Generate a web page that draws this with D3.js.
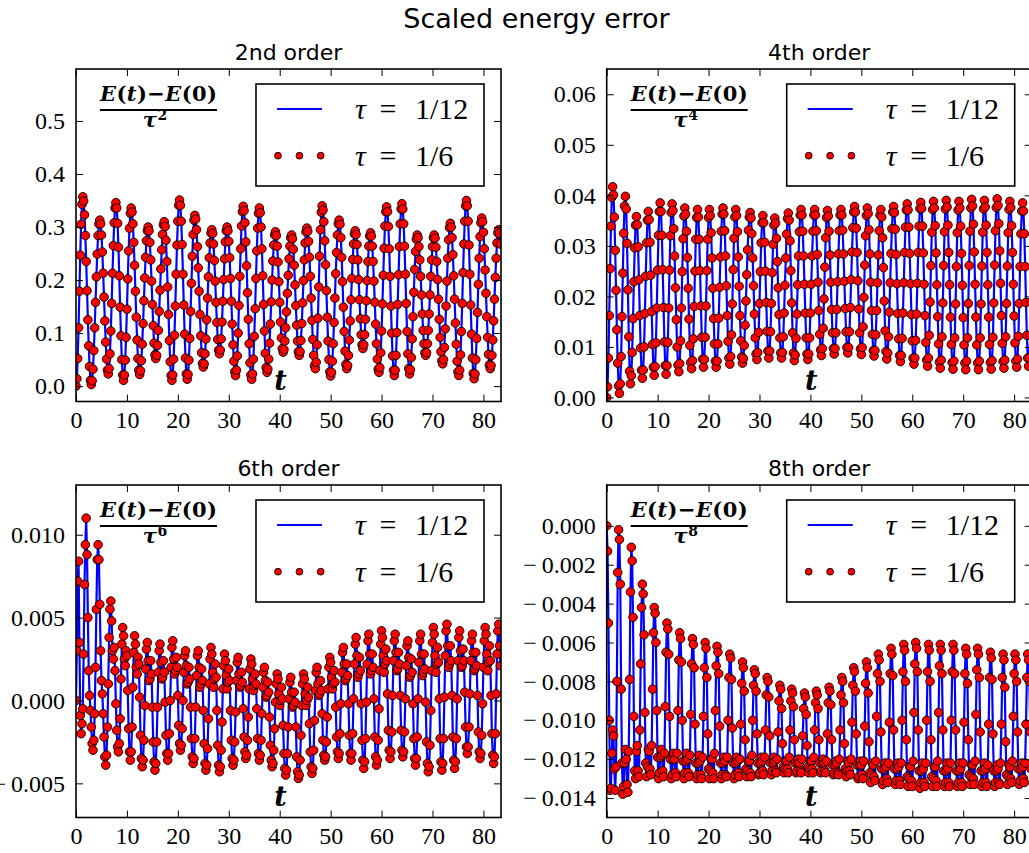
<!DOCTYPE html>
<meta charset="utf-8">
<style>
    body { margin: 0; background: #fff; }
    svg { display: block; }
    .suptitle { font: 27px "DejaVu Sans", sans-serif; text-anchor: middle; }
    .subtitle { font: 22px "DejaVu Sans", sans-serif; text-anchor: middle; }
    .frame { fill: none; stroke: #000; stroke-width: 1.6px; }
    .curve { fill: none; stroke: #0000ff; stroke-width: 2.2px; stroke-linejoin: round; }
    .dot { fill: #ff0000; stroke: #000; stroke-width: 0.9px; }
    .legend-box { fill: #fff; stroke: #000; stroke-width: 1.6px; }
    .legend text { font: 30px "Liberation Serif", serif; }
    .ratio { font-family: "DejaVu Serif", serif; font-weight: bold; font-size: 21px; }
    .ratio.sup { font-size: 14px; }
    .tlabel { font: italic bold 27px "DejaVu Serif", serif; text-anchor: middle; }
</style>
<svg id="fig" width="1029" height="853"></svg>
<script src="https://d3js.org/d3.v7.min.js"></script>
<script>
// sample step of the dotted run (tau = 1/6); dot i sits at t = i * step
var step = 1 / 6;

var xTicks = [0, 10, 20, 30, 40, 50, 60, 70, 80];
var xLabels = ["0", "10", "20", "30", "40", "50", "60", "70", "80"];
var seriesNames = ["1/12", "1/6"];

var yTicks2nd = [0, 0.1, 0.2, 0.3, 0.4, 0.5];
var yLabels2nd = ["0.0", "0.1", "0.2", "0.3", "0.4", "0.5"];
var yTicks4th = [0, 0.01, 0.02, 0.03, 0.04, 0.05, 0.06];
var yLabels4th = ["0.00", "0.01", "0.02", "0.03", "0.04", "0.05", "0.06"];
var yTicks6th = [-0.005, 0, 0.005, 0.010];
var yLabels6th = ["\u2212\u20090.005", "0.000", "0.005", "0.010"];
var yTicks8th = [-0.014, -0.012, -0.010, -0.008, -0.006, -0.004, -0.002, 0];
var yLabels8th = ["\u2212\u20090.014", "\u2212\u20090.012", "\u2212\u20090.010", "\u2212\u20090.008",
                  "\u2212\u20090.006", "\u2212\u20090.004", "\u2212\u20090.002", "0.000"];

// scaled energy error, tau = 1/6, one dot at a time
var dots2nd = [
  0, .014, .052, .110, .179, .247, .305, .343, .357,
  .349, .323, .284, .235, .180, .125, .076, .037, .011, .003,
  .010, .032, .067, .110, .158, .206, .249, .284, .306, .313,
  .306, .285, .253, .213, .168, .123, .083, .051, .030, .023,
  .033, .061, .104, .156, .213, .265, .308, .336, .346,
  .336, .307, .262, .208, .149, .095, .050, .021, .011,
  .021, .049, .092, .145, .202, .255, .298, .326, .336,
  .328, .306, .271, .228, .179, .130, .087, .052, .030, .022,
  .029, .048, .079, .118, .161, .204, .243, .274, .293, .300,
  .293, .271, .238, .198, .154, .114, .081, .059, .052,
  .058, .077, .105, .141, .181, .221, .257, .286, .304, .310,
  .301, .275, .235, .187, .135, .086, .046, .020, .011,
  .021, .051, .096, .151, .211, .266, .311, .341, .351,
  .341, .311, .267, .211, .153, .098, .053, .023, .013,
  .022, .049, .090, .141, .194, .245, .286, .313, .322,
  .315, .295, .263, .223, .179, .135, .095, .063, .043, .036,
  .042, .061, .089, .125, .166, .206, .242, .270, .289, .295,
  .288, .268, .237, .198, .158, .120, .088, .068, .061,
  .068, .089, .121, .160, .201, .240, .272, .293, .300,
  .293, .273, .242, .203, .160, .117, .078, .047, .027, .020,
  .030, .057, .100, .152, .207, .259, .302, .329, .339,
  .331, .308, .272, .227, .176, .126, .080, .044, .021, .013,
  .023, .051, .094, .146, .203, .255, .298, .326, .336,
  .327, .300, .259, .208, .154, .104, .062, .035, .026,
  .032, .051, .081, .117, .159, .200, .236, .266, .285, .291,
  .284, .264, .234, .197, .158, .121, .091, .071, .064,
  .069, .085, .110, .140, .175, .209, .240, .264, .280, .285,
  .278, .258, .228, .191, .152, .115, .085, .065, .058,
  .065, .086, .118, .157, .199, .238, .270, .291, .298,
  .292, .273, .243, .207, .166, .124, .088, .058, .039, .033,
  .045, .078, .128, .187, .245, .295, .328, .340,
  .332, .310, .274, .229, .180, .130, .085, .050, .027, .019,
  .026, .047, .080, .120, .166, .212, .252, .285, .306, .313,
  .305, .280, .243, .197, .149, .103, .066, .041, .033,
  .039, .058, .087, .123, .163, .203, .239, .268, .287, .293,
  .286, .267, .238, .201, .163, .127, .097, .078, .071,
  .078, .097, .126, .161, .199, .235, .264, .283, .289,
  .283, .264, .235, .198, .158, .117, .080, .051, .032, .026,
  .035, .063, .104, .155, .209, .260, .302, .329, .338,
  .329, .301, .259, .207, .151, .100, .057, .030, .020,
  .030, .058, .101, .154, .210, .263, .306, .334, .344,
  .334, .306, .264, .211, .156, .103, .061, .033, .023,
  .031, .054, .089, .131, .177, .220, .254, .277, .285,
  .280, .263, .238, .207, .172, .136, .105, .080, .063, .058,
  .063, .080, .105, .136, .172, .207, .238, .263, .280, .285,
  .279, .262, .235, .201, .164, .126, .092, .065, .048, .042,
  .050, .073, .108, .151, .198, .241, .276, .299, .307,
  .300, .280, .248, .208, .164, .119, .079, .047, .027, .020,
  .030, .059, .103, .156, .214, .268, .311, .340, .350,
  .340, .311, .266, .211, .153, .098, .053, .024, .014,
  .023, .050, .090, .139, .192, .241, .282, .308, .317,
  .310, .290, .259, .219, .175, .131, .092, .060, .040, .033,
  .039, .058, .087, .123, .164, .205, .241, .270, .289, .295,
  .288, .268
];

var dots4th = [
  0, .0021, .0078, .0162, .0255, .0339, .0396, .0417,
  .0401, .0357, .0291, .0212, .0134, .0068, .0023, .0008,
  .0027, .0081, .0160, .0246, .0325, .0379, .0398,
  .0373, .0305, .0213, .0120, .0052, .0027,
  .0043, .0089, .0156, .0229, .0296, .0341, .0358,
  .0342, .0298, .0233, .0162, .0098, .0054, .0038,
  .0054, .0100, .0166, .0240, .0306, .0351, .0368,
  .0352, .0307, .0242, .0170, .0105, .0060, .0044,
  .0061, .0108, .0177, .0252, .0321, .0368, .0385,
  .0368, .0321, .0253, .0178, .0110, .0063, .0046,
  .0063, .0109, .0177, .0252, .0320, .0366, .0383,
  .0370, .0334, .0280, .0217, .0154, .0100, .0064, .0051,
  .0067, .0112, .0177, .0249, .0314, .0359, .0375,
  .0363, .0329, .0277, .0216, .0155, .0103, .0069, .0057,
  .0073, .0116, .0180, .0250, .0313, .0356, .0372,
  .0357, .0313, .0251, .0181, .0119, .0076, .0060,
  .0075, .0119, .0181, .0251, .0313, .0356, .0372,
  .0360, .0326, .0276, .0216, .0156, .0106, .0072, .0060,
  .0072, .0106, .0157, .0218, .0278, .0329, .0363, .0375,
  .0363, .0330, .0280, .0221, .0162, .0111, .0078, .0066,
  .0081, .0124, .0185, .0253, .0315, .0357, .0372,
  .0360, .0328, .0278, .0220, .0162, .0112, .0080, .0068,
  .0077, .0103, .0143, .0191, .0243, .0292, .0331, .0357, .0366,
  .0355, .0324, .0276, .0221, .0165, .0118, .0086, .0075,
  .0089, .0129, .0186, .0249, .0306, .0346, .0360,
  .0346, .0307, .0250, .0188, .0131, .0092, .0078,
  .0092, .0130, .0186, .0247, .0303, .0341, .0355,
  .0345, .0315, .0269, .0217, .0164, .0118, .0088, .0078,
  .0089, .0120, .0167, .0222, .0276, .0323, .0354, .0365,
  .0351, .0310, .0251, .0187, .0128, .0088, .0073,
  .0084, .0117, .0165, .0223, .0280, .0328, .0361, .0372,
  .0361, .0329, .0280, .0224, .0167, .0118, .0086, .0075,
  .0086, .0118, .0167, .0224, .0280, .0329, .0361, .0372,
  .0361, .0330, .0283, .0228, .0172, .0125, .0094, .0083,
  .0097, .0137, .0195, .0258, .0316, .0356, .0370,
  .0359, .0329, .0282, .0228, .0174, .0128, .0097, .0086,
  .0097, .0128, .0174, .0229, .0284, .0330, .0361, .0372,
  .0361, .0331, .0284, .0230, .0176, .0130, .0099, .0088,
  .0099, .0130, .0178, .0233, .0288, .0336, .0367, .0378,
  .0367, .0335, .0287, .0231, .0175, .0128, .0096, .0085,
  .0099, .0140, .0198, .0262, .0320, .0360, .0375,
  .0364, .0332, .0284, .0228, .0172, .0125, .0093, .0082,
  .0093, .0124, .0172, .0227, .0282, .0330, .0361, .0372,
  .0357, .0316, .0257, .0191, .0132, .0091, .0076,
  .0088, .0120, .0169, .0227, .0285, .0334, .0367, .0378,
  .0366, .0333, .0283, .0225, .0166, .0116, .0083, .0071,
  .0083, .0117, .0167, .0227, .0287, .0337, .0371, .0383,
  .0371, .0337, .0285, .0225, .0164, .0112, .0078, .0066,
  .0078, .0113, .0165, .0226, .0287, .0339, .0374, .0386,
  .0374, .0339, .0286, .0224, .0162, .0109, .0074, .0062,
  .0078, .0123, .0189, .0261, .0327, .0372, .0388,
  .0375, .0340, .0286, .0223, .0160, .0106, .0070, .0058,
  .0074, .0120, .0187, .0261, .0328, .0373, .0390,
  .0377, .0341, .0287, .0223, .0159, .0105, .0069, .0056,
  .0072, .0118, .0185, .0259, .0326, .0371, .0388,
  .0375, .0339, .0285, .0222, .0158, .0104, .0068, .0055,
  .0072, .0118, .0186, .0261, .0329, .0375, .0392,
  .0379, .0343, .0288, .0224, .0159, .0104, .0068, .0055,
  .0072, .0118, .0185, .0260, .0327, .0373, .0390,
  .0377, .0341, .0287, .0223, .0159, .0105, .0069, .0056,
  .0073, .0119, .0187, .0262, .0330, .0376, .0393,
  .0380, .0344, .0290, .0226, .0162, .0107, .0071, .0058,
  .0074, .0120, .0186, .0260, .0326, .0372, .0388,
  .0376, .0340, .0287, .0224, .0161, .0108, .0072, .0060,
  .0076, .0121, .0186, .0259, .0324, .0369, .0385,
  .0369, .0324, .0259, .0188, .0123, .0078, .0062,
  .0078, .0123, .0189
];

var dots6th = [
  0, .0030, .0072, .0084, .0035, -.0009, -.0020, -.0014, -.0005, .0028,
  .0070, .0094, .0110, .0088, .0050, .0018, .0003, -.0006, -.0016, -.0026,
  -.0030, -.0024, -.0008, .0020, .0055, .0085, .0094, .0085, .0058, .0030, .0012, .0004, -.0008, -.0022, -.0034,
  -.0039, -.0033, -.0016, .0010, .0038, .0055, .0060, .0048, .0030, .0025, .0032, .0018, -.0002, -.0018, -.0028,
  -.0031, -.0026, -.0011, .0013, .0034, .0044, .0039, .0025, .0021, .0030, .0027, .0006, -.0017, -.0031,
  -.0036, -.0031, -.0016, .0008, .0029, .0039, .0034, .0020, .0016, .0026, .0022, .0002, -.0021, -.0035,
  -.0040, -.0036, -.0024, -.0003, .0019, .0031, .0035, .0024, .0012, .0013, .0024, .0016, -.0004, -.0025, -.0037,
  -.0042, -.0038, -.0025, -.0004, .0017, .0030, .0034, .0023, .0013, .0014, .0024, .0017, -.0001, -.0021, -.0032,
  -.0036, -.0032, -.0020, .0000, .0020, .0032, .0036, .0025, .0016, .0018, .0026, .0020, .0003, -.0015, -.0026,
  -.0030, -.0027, -.0017, .0000, .0017, .0027, .0030, .0021, .0010, .0011, .0020, .0013, -.0004, -.0023, -.0034,
  -.0038, -.0035, -.0023, -.0004, .0015, .0027, .0030, .0020, .0008, .0010, .0019, .0012, -.0006, -.0026, -.0038,
  -.0042, -.0039, -.0029, -.0011, .0010, .0025, .0032, .0028, .0017, .0008, .0013, .0022, .0014, -.0006, -.0027, -.0039,
  -.0043, -.0040, -.0030, -.0013, .0007, .0021, .0028, .0024, .0015, .0007, .0011, .0019, .0012, -.0006, -.0024, -.0035,
  -.0039, -.0036, -.0025, -.0007, .0012, .0023, .0026, .0016, .0008, .0009, .0017, .0011, -.0005, -.0022, -.0031,
  -.0035, -.0033, -.0024, -.0010, .0007, .0019, .0025, .0022, .0013, .0006, .0009, .0016, .0010, -.0005, -.0023, -.0032,
  -.0036, -.0033, -.0024, -.0008, .0008, .0017, .0020, .0012, .0002, .0003, .0011, .0005, -.0010, -.0027, -.0036,
  -.0040, -.0038, -.0030, -.0017, -.0001, .0010, .0016, .0013, .0004, -.0003, .0000, .0008, .0001, -.0015, -.0032, -.0041,
  -.0045, -.0042, -.0032, -.0016, .0001, .0011, .0014, .0005, -.0004, -.0003, .0005, -.0001, -.0016, -.0034, -.0043,
  -.0047, -.0045, -.0036, -.0021, -.0003, .0010, .0016, .0013, .0004, -.0003, .0000, .0008, .0002, -.0014, -.0031, -.0040,
  -.0044, -.0041, -.0030, -.0012, .0006, .0017, .0020, .0010, .0003, .0004, .0012, .0006, -.0008, -.0024, -.0033,
  -.0036, -.0034, -.0025, -.0010, .0007, .0020, .0026, .0023, .0014, .0007, .0010, .0018, .0011, -.0004, -.0022, -.0031,
  -.0035, -.0032, -.0020, -.0002, .0017, .0029, .0032, .0022, .0012, .0013, .0022, .0015, -.0002, -.0021, -.0032,
  -.0036, -.0032, -.0020, .0001, .0022, .0034, .0038, .0027, .0014, .0016, .0026, .0018, -.0002, -.0024, -.0036,
  -.0041, -.0037, -.0023, -.0001, .0022, .0036, .0040, .0028, .0016, .0018, .0028, .0020, .0001, -.0022, -.0034,
  -.0039, -.0036, -.0024, -.0005, .0018, .0034, .0042, .0038, .0027, .0017, .0022, .0031, .0024, .0004, -.0018, -.0030,
  -.0035, -.0031, -.0019, .0003, .0024, .0036, .0040, .0029, .0018, .0019, .0029, .0022, .0003, -.0018, -.0030,
  -.0034, -.0031, -.0019, .0001, .0021, .0033, .0036, .0026, .0014, .0015, .0025, .0017, -.0002, -.0023, -.0035,
  -.0039, -.0035, -.0022, .0001, .0023, .0036, .0040, .0028, .0015, .0017, .0028, .0019, -.0001, -.0025, -.0038,
  -.0043, -.0040, -.0027, -.0006, .0018, .0035, .0044, .0040, .0027, .0017, .0022, .0032, .0023, .0001, -.0023, -.0037,
  -.0042, -.0038, -.0023, .0002, .0027, .0042, .0046, .0033, .0020, .0022, .0033, .0024, .0003, -.0022, -.0036,
  -.0041, -.0037, -.0023, .0001, .0024, .0038, .0042, .0030, .0020, .0021, .0031, .0024, .0005, -.0016, -.0028,
  -.0032, -.0028, -.0016, .0004, .0024, .0036, .0040, .0029, .0018, .0019, .0029, .0021, .0003, -.0019, -.0031,
  -.0035, -.0032, -.0021, -.0002, .0020, .0036, .0044, .0040, .0028, .0018, .0023, .0033, .0024, .0003, -.0020, -.0033,
  -.0038, -.0034, -.0020, .0004, .0028, .0042, .0046, .0033, .0021
];

var dots8th = [
  0, -.0013, -.0050, -.0100, -.0136, -.0135, -.0117, -.0105, -.0108, -.0125, -.0136, -.0124, -.0080, -.0024,
  -.0002, -.0007, -.0030, -.0084, -.0122, -.0138, -.0134, -.0122, -.0115, -.0120, -.0133, -.0137, -.0116, -.0079, -.0034,
  -.0011, -.0018, -.0047, -.0098, -.0126, -.0130, -.0116, -.0113, -.0126, -.0129, -.0105, -.0071, -.0042,
  -.0030, -.0035, -.0056, -.0096, -.0122, -.0129, -.0124, -.0115, -.0116, -.0125, -.0128, -.0113, -.0084, -.0055,
  -.0042, -.0045, -.0060, -.0095, -.0119, -.0130, -.0127, -.0119, -.0115, -.0118, -.0126, -.0129, -.0117, -.0093, -.0065,
  -.0050, -.0053, -.0066, -.0098, -.0120, -.0130, -.0128, -.0120, -.0117, -.0120, -.0127, -.0129, -.0117, -.0095, -.0069,
  -.0055, -.0058, -.0070, -.0100, -.0121, -.0130, -.0127, -.0121, -.0117, -.0120, -.0127, -.0129, -.0118, -.0097, -.0071,
  -.0058, -.0061, -.0073, -.0102, -.0122, -.0130, -.0128, -.0122, -.0118, -.0121, -.0128, -.0130, -.0119, -.0098, -.0073,
  -.0060, -.0063, -.0078, -.0107, -.0125, -.0130, -.0126, -.0120, -.0120, -.0127, -.0130, -.0117, -.0095, -.0072,
  -.0062, -.0065, -.0076, -.0103, -.0122, -.0130, -.0128, -.0122, -.0119, -.0121, -.0128, -.0129, -.0119, -.0100, -.0078,
  -.0066, -.0068, -.0079, -.0104, -.0122, -.0130, -.0128, -.0122, -.0119, -.0121, -.0127, -.0129, -.0120, -.0102, -.0081,
  -.0070, -.0073, -.0085, -.0110, -.0125, -.0129, -.0126, -.0121, -.0121, -.0127, -.0129, -.0118, -.0100, -.0082,
  -.0074, -.0076, -.0085, -.0107, -.0122, -.0128, -.0127, -.0122, -.0119, -.0121, -.0126, -.0128, -.0119, -.0105, -.0087,
  -.0078, -.0080, -.0088, -.0108, -.0122, -.0128, -.0126, -.0122, -.0119, -.0121, -.0126, -.0127, -.0120, -.0106, -.0090,
  -.0082, -.0084, -.0094, -.0112, -.0124, -.0127, -.0125, -.0121, -.0121, -.0125, -.0127, -.0119, -.0105, -.0090,
  -.0084, -.0086, -.0093, -.0110, -.0122, -.0127, -.0126, -.0122, -.0120, -.0122, -.0126, -.0127, -.0120, -.0108, -.0094,
  -.0086, -.0088, -.0097, -.0113, -.0124, -.0127, -.0125, -.0121, -.0121, -.0125, -.0127, -.0119, -.0105, -.0091,
  -.0085, -.0087, -.0094, -.0110, -.0122, -.0127, -.0126, -.0122, -.0120, -.0122, -.0126, -.0127, -.0121, -.0107, -.0091,
  -.0083, -.0085, -.0092, -.0110, -.0123, -.0128, -.0127, -.0123, -.0121, -.0122, -.0127, -.0128, -.0120, -.0105, -.0087,
  -.0078, -.0080, -.0091, -.0112, -.0125, -.0129, -.0126, -.0121, -.0122, -.0126, -.0128, -.0120, -.0101, -.0082,
  -.0073, -.0075, -.0085, -.0107, -.0123, -.0130, -.0129, -.0123, -.0121, -.0123, -.0128, -.0130, -.0121, -.0103, -.0081,
  -.0070, -.0073, -.0086, -.0111, -.0127, -.0132, -.0128, -.0122, -.0123, -.0129, -.0131, -.0121, -.0098, -.0076,
  -.0066, -.0069, -.0080, -.0106, -.0125, -.0133, -.0131, -.0125, -.0122, -.0124, -.0130, -.0132, -.0122, -.0101, -.0076,
  -.0063, -.0066, -.0077, -.0105, -.0125, -.0133, -.0131, -.0125, -.0122, -.0124, -.0131, -.0133, -.0122, -.0100, -.0075,
  -.0061, -.0064, -.0080, -.0110, -.0129, -.0134, -.0130, -.0124, -.0124, -.0131, -.0134, -.0121, -.0096, -.0071,
  -.0060, -.0063, -.0075, -.0105, -.0126, -.0135, -.0132, -.0126, -.0122, -.0125, -.0132, -.0134, -.0122, -.0100, -.0075,
  -.0061, -.0064, -.0080, -.0110, -.0129, -.0134, -.0130, -.0124, -.0124, -.0131, -.0134, -.0121, -.0096, -.0072,
  -.0061, -.0064, -.0076, -.0105, -.0126, -.0134, -.0132, -.0126, -.0122, -.0125, -.0132, -.0134, -.0122, -.0100, -.0075,
  -.0061, -.0064, -.0076, -.0105, -.0126, -.0134, -.0132, -.0126, -.0122, -.0125, -.0132, -.0134, -.0122, -.0101, -.0076,
  -.0063, -.0066, -.0081, -.0110, -.0128, -.0133, -.0129, -.0123, -.0123, -.0130, -.0133, -.0121, -.0097, -.0074,
  -.0063, -.0066, -.0078, -.0106, -.0126, -.0134, -.0132, -.0126, -.0122, -.0125, -.0132, -.0134, -.0123, -.0102, -.0078,
  -.0065, -.0068, -.0079, -.0107, -.0126, -.0134, -.0132, -.0126, -.0123, -.0125, -.0132, -.0133, -.0122, -.0102, -.0078,
  -.0066, -.0069, -.0083, -.0111, -.0128, -.0133, -.0129, -.0123, -.0124, -.0130, -.0132, -.0121, -.0098, -.0076,
  -.0066, -.0069, -.0080, -.0106, -.0125, -.0133, -.0131, -.0125, -.0122, -.0124, -.0130, -.0132, -.0122, -.0102, -.0078,
  -.0066, -.0069, -.0080, -.0106, -.0125
];

// the tau = 1/12 curve runs through the 1/6 dots at this scale, so it uses the same readings
var line2nd = dots2nd, line4th = dots4th, line6th = dots6th, line8th = dots8th;

var W = 425, H = 332.5, tMax = 83.45;

var panels = [
    { title: "2nd order", pow: "2", dots: dots2nd, line: line2nd, left: 76, top: 69,
      yDom: [-0.029, 0.598], yTicks: yTicks2nd, yLabels: yLabels2nd },
    { title: "4th order", pow: "4", dots: dots4th, line: line4th, left: 606.7, top: 69,
      yDom: [-0.0008, 0.065], yTicks: yTicks4th, yLabels: yLabels4th },
    { title: "6th order", pow: "6", dots: dots6th, line: line6th, left: 76, top: 485,
      yDom: [-0.00706, 0.013], yTicks: yTicks6th, yLabels: yLabels6th },
    { title: "8th order", pow: "8", dots: dots8th, line: line8th, left: 606.7, top: 485,
      yDom: [-0.0150, 0.0021], yTicks: yTicks8th, yLabels: yLabels8th }
];

var svg = d3.select("#fig");

svg.append("text").attr("class", "suptitle")
    .attr("x", 536.5).attr("y", 28)
    .text("Scaled energy error");

panels.forEach(function (p, n) {
    var g = svg.append("g").attr("transform", "translate(" + p.left + "," + p.top + ")");
    var x = d3.scaleLinear().domain([0, tMax]).range([0, W]);
    var y = d3.scaleLinear().domain(p.yDom).range([H, 0]);

    g.append("text").attr("class", "subtitle")
        .attr("x", W / 2).attr("y", -9)
        .text(p.title);

    g.append("clipPath").attr("id", "clip" + n)
      .append("rect").attr("width", W).attr("height", H);

    var plot = g.append("g").attr("clip-path", "url(#clip" + n + ")");

    var line = d3.line()
        .x(function (d, i) { return x(i * step); })
        .y(function (d) { return y(d); });

    plot.append("path").datum(p.line)
        .attr("class", "curve")
        .attr("d", line);

    plot.selectAll("circle")
        .data(p.dots)
        .enter().append("circle")
        .attr("class", "dot")
        .attr("cx", function (d, i) { return x(i * step); })
        .attr("cy", function (d) { return y(d); })
        .attr("r", 4.3);

    // axes, ticks pointing inward on all four sides
    function clean(a) {
        a.select(".domain").remove();
        a.attr("font-family", "'Liberation Serif', serif").attr("font-size", 24);
        a.selectAll(".tick line").attr("stroke-width", 1);
    }
    g.append("g").attr("transform", "translate(0," + H + ")")
        .call(d3.axisBottom(x).tickValues(xTicks)
            .tickFormat(function (d, i) { return xLabels[i]; })
            .tickSize(-7).tickPadding(9))
        .call(clean);
    g.append("g")
        .call(d3.axisTop(x).tickValues(xTicks).tickFormat("").tickSize(-7))
        .call(clean);
    g.append("g")
        .call(d3.axisLeft(y).tickValues(p.yTicks)
            .tickFormat(function (d, i) { return p.yLabels[i]; })
            .tickSize(-7).tickPadding(11))
        .call(clean);
    g.append("g").attr("transform", "translate(" + W + ",0)")
        .call(d3.axisRight(y).tickValues(p.yTicks).tickFormat("").tickSize(-7))
        .call(clean);

    g.append("rect").attr("class", "frame").attr("width", W).attr("height", H);

    // (E(t) - E(0)) / tau^k label
    var num = g.append("text").attr("class", "ratio")
        .attr("x", 24).attr("y", 32)
        .attr("textLength", 117).attr("lengthAdjust", "spacing");
    num.append("tspan").attr("font-style", "italic").text("E");
    num.append("tspan").text("(");
    num.append("tspan").attr("font-style", "italic").text("t");
    num.append("tspan").text(")\u2212");
    num.append("tspan").attr("font-style", "italic").text("E");
    num.append("tspan").text("(0)");
    g.append("line")
        .attr("x1", 24).attr("x2", 141).attr("y1", 41).attr("y2", 41)
        .attr("stroke", "#000").attr("stroke-width", 1.8);
    g.append("text").attr("class", "ratio")
        .attr("x", 81).attr("y", 58).attr("text-anchor", "end")
        .attr("font-style", "italic").text("\u03c4");
    g.append("text").attr("class", "ratio sup")
        .attr("x", 81.5).attr("y", 51)
        .text(p.pow);

    g.append("text").attr("class", "tlabel")
        .attr("x", W / 2 - 8).attr("y", H - 12)
        .text("t");

    // legend
    var lg = g.append("g").attr("class", "legend").attr("transform", "translate(180,15)");
    lg.append("rect").attr("class", "legend-box").attr("width", 228).attr("height", 102);
    lg.append("line").attr("class", "curve")
        .attr("x1", 21).attr("x2", 66).attr("y1", 25).attr("y2", 25);
    lg.selectAll("circle").data([22, 43.4, 64.7]).enter().append("circle")
        .attr("class", "dot").attr("stroke-width", 0.6)
        .attr("cx", function (d) { return d; }).attr("cy", 71.7).attr("r", 3.4);
    seriesNames.forEach(function (s, k) {
        var t = lg.append("text").attr("y", 35 + k * 46.7);
        t.append("tspan").attr("x", 99).attr("font-style", "italic").text("\u03c4");
        t.append("tspan").attr("x", 123.5).text("=");
        t.append("tspan").attr("x", 159).text(s);
    });
});
</script>
